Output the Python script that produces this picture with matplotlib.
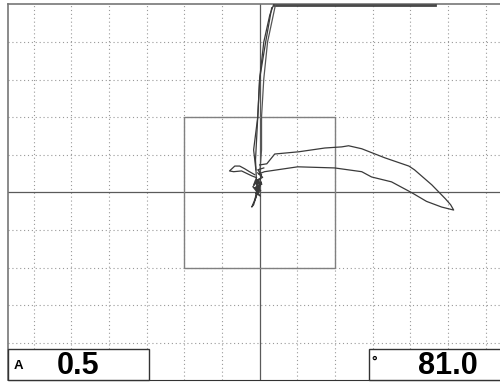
import matplotlib.pyplot as plt
import numpy as np

# screen in divisions, centre of the crosshair = (0, 0)
x_grid = [-6, -5, -4, -3, -2, -1, 1, 2, 3, 4, 5, 6]
y_grid = [-4, -3, -2, -1, 1, 2, 3, 4]

# signal going up to saturation and back
up_x = [-0.08, -0.11, -0.05, 0.00, 0.11, 0.27, 0.37]
up_y = [0.20, 0.86, 2.01, 3.02, 4.00, 4.72, 4.99]
sat_x = [0.37, 4.65]
sat_y = [4.99, 4.99]
down_x = [4.65, 0.42, 0.21, 0.11, 0.05, 0.05, 0.00]
down_y = [4.99, 4.99, 4.00, 3.02, 2.01, 1.13, 0.47]
third_x = [0.32, 0.16, 0.00, -0.05, -0.16, -0.10]
third_y = [4.91, 4.00, 3.02, 2.01, 1.13, 0.60]

# small loop and noise around the balance point
loop_x = [-0.13, -0.27, -0.40, -0.53, -0.66, -0.80, -0.69, -0.48, -0.21, -0.08,
          -0.16, -0.03, -0.11, 0.00, -0.08, -0.16, -0.21, -0.11, 0.05, -0.05, 0.11]
loop_y = [0.47, 0.55, 0.63, 0.70, 0.70, 0.57, 0.55, 0.57, 0.44, 0.39,
          0.20, 0.33, 0.07, 0.20, -0.07, -0.33, -0.39, -0.15, 0.47, 0.60, 0.65]
noise_x = [-0.05, 0.08, -0.12, 0.06, -0.14, 0.03, -0.10, 0.02, -0.18, -0.02,
           -0.13, 0.04, -0.07]
noise_y = [0.52, 0.40, 0.30, 0.22, 0.12, 0.05, -0.02, -0.10, 0.15, 0.35,
           -0.22, 0.28, -0.05]

# defect signal loop to the right
flaw_x = [0.00, 0.19, 0.40, 1.04, 1.73, 2.18, 2.36, 2.71, 3.32, 3.96, 4.11, 4.57,
          4.93, 5.07, 5.15, 4.83, 4.43, 4.04, 3.50, 2.97, 2.71, 1.99, 1.01, 0.13, -0.03]
flaw_y = [0.73, 0.76, 1.02, 1.08, 1.18, 1.21, 1.24, 1.16, 0.92, 0.70, 0.60, 0.20,
          -0.17, -0.33, -0.47, -0.39, -0.24, -0.01, 0.28, 0.41, 0.55, 0.65, 0.68, 0.55, 0.49]

gate = (-2, -2, 4, 4)
amp_label = "A"
amp_value = "0.5"
angle_value = "81.0"

fig = plt.figure(figsize=(5, 3.83), dpi=100)
ax = fig.add_axes([8 / 500, 3 / 383, 492 / 500, 376 / 383])
ax.set_xlim(-6.68, 6.38)
ax.set_ylim(-4.99, 5.01)

for gx in x_grid:
    ax.axvline(gx, color="#999999", lw=0.8, ls=(0, (1, 2.5)), zorder=1)
for gy in y_grid:
    ax.axhline(gy, color="#999999", lw=0.8, ls=(0, (1, 2.5)), zorder=1)
ax.axvline(0, color="#5a5a5a", lw=0.9, zorder=2)
ax.axhline(0, color="#5a5a5a", lw=0.9, zorder=2)

ax.add_patch(plt.Rectangle(gate[:2], gate[2], gate[3], fill=False,
                           edgecolor="#808080", lw=1.0, zorder=2))

trace = dict(color="#3a3a3a", lw=0.9, zorder=3)
ax.plot(up_x, up_y, **trace)
ax.plot(sat_x, sat_y, color="#444444", lw=2.0, zorder=3)
ax.plot(down_x, down_y, color="#555555", lw=0.9, zorder=3)
ax.plot(third_x, third_y, **trace)
ax.plot(loop_x, loop_y, **trace)
ax.plot(noise_x, noise_y, **trace)
ax.plot(flaw_x, flaw_y, **trace)

ax.set_xticks([])
ax.set_yticks([])
ax.spines["right"].set_visible(False)
for s in ["left", "top"]:
    ax.spines[s].set_color("#777777")
    ax.spines[s].set_linewidth(1.2)
ax.spines["bottom"].set_color("#333333")

# readout boxes in pixel coordinates
ov = fig.add_axes([0, 0, 1, 1])
ov.set_xlim(0, 500)
ov.set_ylim(383, 0)
ov.axis("off")
ov.add_patch(plt.Rectangle((8, 349), 141, 31, facecolor="white",
                           edgecolor="#333333", lw=1.0))
ov.add_patch(plt.Rectangle((369, 349), 135, 31, facecolor="white",
                           edgecolor="#333333", lw=1.0))
ov.text(14, 369, amp_label, fontsize=9.5, fontweight="bold",
        family="Liberation Sans", va="baseline", ha="left")
ov.text(57, 374, amp_value, fontsize=22, fontweight="bold",
        family="Liberation Sans", va="baseline", ha="left")
ov.text(371, 362, "\u00b0", fontsize=10, fontweight="bold",
        family="Liberation Sans", va="center", ha="left")
ov.text(418, 374, angle_value, fontsize=22, fontweight="bold",
        family="Liberation Sans", va="baseline", ha="left")

fig.savefig("out.png", dpi=100)
